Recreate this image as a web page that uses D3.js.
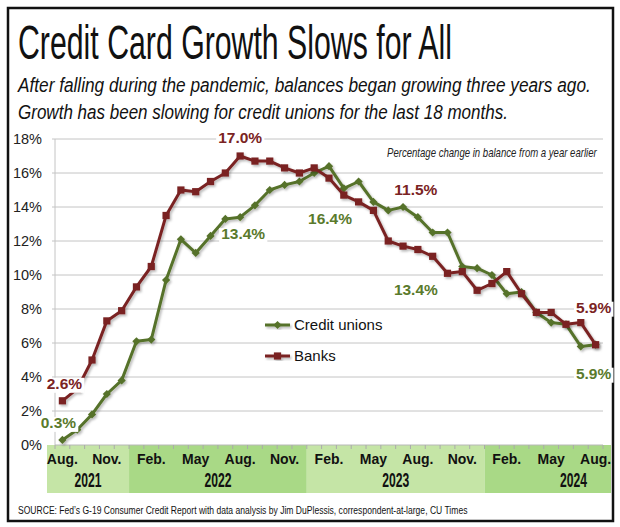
<!DOCTYPE html>
<html><head><meta charset="utf-8">
<script src="https://cdn.jsdelivr.net/npm/d3@7"></script>
<style>body{margin:0;background:#fff}svg{display:block}</style>
</head><body><svg id="c" width="620" height="527"></svg>
<script>
// ---------------- DATA ----------------
const months = [
  "Aug 2021","Sep 2021","Oct 2021","Nov 2021","Dec 2021",
  "Jan 2022","Feb 2022","Mar 2022","Apr 2022","May 2022","Jun 2022","Jul 2022","Aug 2022","Sep 2022","Oct 2022","Nov 2022","Dec 2022",
  "Jan 2023","Feb 2023","Mar 2023","Apr 2023","May 2023","Jun 2023","Jul 2023","Aug 2023","Sep 2023","Oct 2023","Nov 2023","Dec 2023",
  "Jan 2024","Feb 2024","Mar 2024","Apr 2024","May 2024","Jun 2024","Jul 2024","Aug 2024"
];
const creditUnions = [
  0.3, 0.9, 1.8, 3.0, 3.8,
  6.1, 6.2, 9.7, 12.1, 11.3, 12.3, 13.3, 13.4, 14.1, 15.0, 15.3, 15.5,
  16.0, 16.4, 15.1, 15.5, 14.3, 13.8, 14.0, 13.4, 12.5, 12.5, 10.5, 10.4,
  10.0, 8.9, 9.0, 7.8, 7.2, 7.1, 5.8, 5.9
];
const banks = [
  2.6, 3.3, 5.0, 7.3, 7.9,
  9.3, 10.5, 13.5, 15.0, 14.9, 15.5, 16.0, 17.0, 16.7, 16.7, 16.3, 16.0,
  16.3, 15.7, 14.7, 14.3, 13.8, 12.0, 11.7, 11.5, 11.1, 10.1, 10.2, 9.1,
  9.5, 10.2, 8.9, 7.8, 7.8, 7.1, 7.2, 5.9
];
const seriesNames = ["Credit unions", "Banks"];
const yTicks = [0, 2, 4, 6, 8, 10, 12, 14, 16, 18];
const tickMonths = ["Aug 2021","Nov 2021","Feb 2022","May 2022","Aug 2022","Nov 2022","Feb 2023","May 2023","Aug 2023","Nov 2023","Feb 2024","May 2024","Aug 2024"];
const tickLabels = ["Aug.","Nov.","Feb.","May","Aug.","Nov.","Feb.","May","Aug.","Nov.","Feb.","May","Aug."];
const years = ["2021", "2022", "2023", "2024"];
const annotationSeries = ["Banks","Credit unions","Banks","Credit unions","Credit unions","Banks","Credit unions","Banks","Credit unions"];
const annotationMonths = ["Aug 2021","Aug 2021","Aug 2022","Aug 2022","Feb 2023","Aug 2023","Aug 2023","Aug 2024","Aug 2024"];

const titleText = "Credit Card Growth Slows for All";
const subtitle1 = "After falling during the pandemic, balances began growing three years ago.";
const subtitle2 = "Growth has been slowing for credit unions for the last 18 months.";
const noteText = "Percentage change in balance from a year earlier";
const sourceText = "SOURCE: Fed\u2019s G-19 Consumer Credit Report with data analysis by Jim DuPlessis, correspondent-at-large, CU Times";

// ---------------- STYLE / LAYOUT ----------------
const NARROW = "'Liberation Sans Narrow','Arial Narrow','Liberation Sans',Arial,sans-serif";
const GREEN = "#56722a", RED = "#7a2323";
const GREEN_TXT = "#5a7a2c", RED_TXT = "#7a2323";
const plot = {left: 55, right: 603, top: 139, bottom: 445};
const bandBox = {left: 47, right: 611, top: 445, bottom: 493};
const bandColors = ["#c5e5a6", "#a9d986"];
// label offsets (dx, dy to baseline) for each annotation, in order
const labelOffsets = [[2,-12],[-4,-12],[0,-13],[3,22],[1,58],[-2,-55],[-2,78],[-2,-32],[-2,34]];

const svg = d3.select("#c");
const defs = svg.append("defs");
defs.append("filter").attr("id","sh").attr("x","-10%").attr("y","-10%").attr("width","120%").attr("height","120%")
  .append("feDropShadow").attr("dx",1.5).attr("dy",1.8).attr("stdDeviation",1.2)
  .attr("flood-color","#000").attr("flood-opacity",0.28);

// horizontally fit a text to a width by scaling around its anchor
function fit(t, w) {
  const n = t.node().getComputedTextLength();
  const x0 = +t.attr("x"), y0 = +t.attr("y");
  t.attr("x", 0).attr("y", 0).attr("transform", `translate(${x0},${y0}) scale(${w / n},1)`);
  return t;
}

// frame
svg.append("rect").attr("x",8).attr("y",8).attr("width",605).attr("height",513)
  .attr("fill","#fff").attr("stroke","#111").attr("stroke-width",2.5);

// titles
fit(svg.append("text").attr("x",18).attr("y",59).attr("font-family",NARROW).attr("font-size",49)
  .attr("fill","#111").text(titleText), 434);
fit(svg.append("text").attr("x",18).attr("y",92).attr("font-family",NARROW).attr("font-style","italic").attr("font-size",21)
  .attr("fill","#111").text(subtitle1), 573);
fit(svg.append("text").attr("x",18).attr("y",119).attr("font-family",NARROW).attr("font-style","italic").attr("font-size",21)
  .attr("fill","#111").text(subtitle2), 490);

// scales
const x = d3.scaleBand().domain(months).range([plot.left, plot.right]).paddingInner(0).paddingOuter(0);
const cx = m => x(m) + x.bandwidth() / 2;
const y = d3.scaleLinear().domain([0, 18]).range([plot.bottom, plot.top]);

// gridlines
svg.append("g").selectAll("line").data(yTicks.filter(t => t > 0)).join("line")
  .attr("x1", plot.left - 3).attr("x2", plot.right).attr("y1", d => y(d)).attr("y2", d => y(d))
  .attr("stroke", "#c4c4c4").attr("stroke-width", 1);
svg.append("line").attr("x1",plot.left).attr("x2",plot.left).attr("y1",plot.top).attr("y2",plot.bottom)
  .attr("stroke","#c4c4c4");

// y labels
svg.append("g").selectAll("text").data(yTicks).join("text")
  .attr("x", 42).attr("y", d => y(d) + 5).attr("text-anchor","end")
  .attr("font-family", NARROW).attr("font-size", 14.5).attr("fill","#222")
  .text(d => d + "%");

// note
fit(svg.append("text").attr("x",387).attr("y",157).attr("font-family",NARROW).attr("font-style","italic")
  .attr("font-size",12.5).attr("fill","#222").text(noteText), 210);

// x band
const yearOf = m => m.slice(-4);
years.forEach((yr, i) => {
  const ms = months.filter(m => yearOf(m) === yr);
  const x0 = i === 0 ? bandBox.left : x(ms[0]);
  const x1 = i === years.length - 1 ? bandBox.right : x(ms[ms.length - 1]) + x.bandwidth();
  svg.append("rect").attr("x", x0).attr("y", bandBox.top).attr("width", x1 - x0).attr("height", bandBox.bottom - bandBox.top)
    .attr("fill", bandColors[i % 2]);
  const lx = i === 0 ? (x0 + x1) / 2 : x(ms[0]) + 6 * x.bandwidth();
  fit(svg.append("text").attr("x", lx).attr("y", 487).attr("text-anchor","middle")
    .attr("font-family", NARROW).attr("font-size", 21).attr("font-weight", "bold")
    .attr("fill","#111").text(yr), 27);
});
svg.append("line").attr("x1",plot.left).attr("x2",plot.right).attr("y1",plot.bottom).attr("y2",plot.bottom)
  .attr("stroke","#b8b8b8");
svg.append("g").selectAll("line").data(months.concat(["_end"])).join("line")
  .attr("x1", (d,i) => plot.left + i * x.bandwidth()).attr("x2", (d,i) => plot.left + i * x.bandwidth())
  .attr("y1", plot.bottom).attr("y2", plot.bottom + 4).attr("stroke","#aaa");
svg.append("g").selectAll("text").data(tickMonths).join("text")
  .attr("x", (d) => cx(d)).attr("y", 464).attr("text-anchor","middle")
  .attr("font-family", NARROW).attr("font-size", 14).attr("font-weight","bold").attr("fill","#111")
  .text((d,i) => tickLabels[i]);

// source
fit(svg.append("text").attr("x",18).attr("y",514).attr("font-family",NARROW).attr("font-size",11.5)
  .attr("fill","#111").text(sourceText), 450);

// lines
const series = [
  {name: seriesNames[0], values: creditUnions, color: GREEN, txt: GREEN_TXT, marker: "diamond"},
  {name: seriesNames[1], values: banks, color: RED, txt: RED_TXT, marker: "square"}
];
const line = d3.line().x((d, i) => cx(months[i])).y(d => y(d));
const diamond = d3.symbol(d3.symbolSquare, 34);
const square = d3.symbol(d3.symbolSquare, 52);
series.forEach(s => {
  const g = svg.append("g").attr("filter","url(#sh)");
  g.append("path").datum(s.values).attr("d", line).attr("fill","none")
    .attr("stroke", s.color).attr("stroke-width", 3).attr("stroke-linejoin","round");
  g.selectAll("path.m").data(s.values).join("path").attr("class","m")
    .attr("d", s.marker === "diamond" ? diamond : square)
    .attr("transform", (d, i) => `translate(${cx(months[i])},${y(d)})` + (s.marker === "diamond" ? " rotate(45)" : ""))
    .attr("fill", s.color);
});

// legend
series.forEach((s, i) => {
  const ly = 325 + i * 31;
  const g = svg.append("g").attr("filter","url(#sh)");
  g.append("line").attr("x1",265).attr("x2",290).attr("y1",ly).attr("y2",ly).attr("stroke",s.color).attr("stroke-width",3);
  g.append("path").attr("d", s.marker === "diamond" ? diamond : square)
    .attr("transform", `translate(277.5,${ly})` + (s.marker === "diamond" ? " rotate(45)" : "")).attr("fill", s.color);
  svg.append("text").attr("x",294).attr("y",ly+5).attr("font-family",NARROW).attr("font-size",15).attr("fill","#111").text(s.name);
});

// annotations
const fmt = d3.format(".1f");
annotationSeries.forEach((sn, i) => {
  const s = series.find(t => t.name === sn);
  const mi = months.indexOf(annotationMonths[i]);
  const v = s.values[mi];
  const [dx, dy] = labelOffsets[i];
  const g = svg.append("g");
  const t = g.append("text").attr("x", cx(annotationMonths[i]) + dx).attr("y", y(v) + dy)
    .attr("text-anchor","middle").attr("font-family", NARROW).attr("font-size", 15.5).attr("font-weight","bold")
    .attr("fill", s.txt).text(fmt(v) + "%");
  const bb = t.node().getBBox();
  g.insert("rect","text").attr("x", bb.x - 2).attr("y", bb.y + 3).attr("width", bb.width + 4).attr("height", bb.height - 2)
    .attr("fill", "#fff");
});
</script></body></html>
